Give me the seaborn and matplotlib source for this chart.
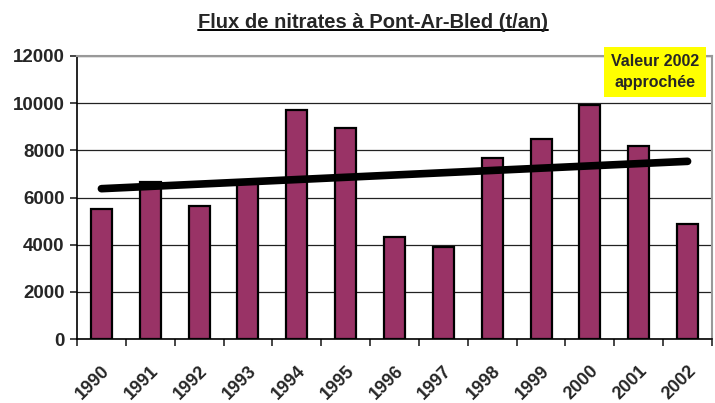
import numpy as np
import pandas as pd
import matplotlib
matplotlib.use("Agg")
import matplotlib.pyplot as plt
import seaborn as sns
from matplotlib.lines import Line2D

years = ["1990", "1991", "1992", "1993", "1994", "1995", "1996",
         "1997", "1998", "1999", "2000", "2001", "2002"]
flux = [5500, 6650, 5650, 6600, 9700, 8940, 4310,
        3900, 7680, 8490, 9930, 8180, 4870]
title = "Flux de nitrates à Pont-Ar-Bled (t/an)"
note = "Valeur 2002\napprochée"

sns.set_style("white")
plt.rcParams['font.family'] = ['Liberation Sans', 'DejaVu Sans']
plt.rcParams['font.weight'] = 'bold'

df = pd.DataFrame({"annee": years, "flux": flux})

fig = plt.figure(figsize=(7.15, 4.03), dpi=100)
ax = fig.add_axes([77 / 715, 1 - 339 / 403, 635 / 715, 283 / 403])

sns.barplot(data=df, x="annee", y="flux", color="#993366", saturation=1,
            width=0.43, edgecolor="black", linewidth=1.6, ax=ax, zorder=3)

# linear trend over the years
sns.regplot(x=np.arange(len(flux)), y=np.array(flux), ci=None, scatter=False,
            ax=ax, line_kws=dict(color="black", lw=5.5, solid_capstyle="round", zorder=4))

ax.set_xlim(-0.5, len(years) - 0.5)
ax.set_ylim(0, 12000)
ax.set_yticks(range(0, 12001, 2000))
ax.yaxis.grid(True, color="#222222", lw=0.9, zorder=0)
ax.set_xlabel("")
ax.set_ylabel("")

for s in ["left", "bottom"]:
    ax.spines[s].set_color("black")
    ax.spines[s].set_linewidth(1.2)
for s in ["top", "right"]:
    ax.spines[s].set_color("#999999")
    ax.spines[s].set_linewidth(1.5)

ax.tick_params(axis="y", which="both", left=True, length=5, width=1.2,
               labelsize=13.5, pad=4)
ax.set_xticks(np.arange(len(years)))
ax.set_xticklabels(years, rotation=45, ha="right", rotation_mode="anchor",
                   fontsize=13, fontweight="bold")
ax.tick_params(axis="x", which="major", length=0, pad=17)
ax.set_xticks(np.arange(-0.5, len(years)), minor=True)
ax.tick_params(axis="x", which="minor", bottom=True, length=5, width=1.2)

t = fig.text(373 / 715, 1 - 22 / 403, title, ha="center", va="center",
             fontsize=14.5, fontweight="bold")

fig.text(655 / 715, 1 - 72 / 403, note, ha="center", va="center",
         fontsize=11.5, fontweight="bold", linespacing=1.45,
         bbox=dict(boxstyle="square,pad=0.45", fc="#ffff00", ec="none"))

fig.canvas.draw()
bb = t.get_window_extent().transformed(fig.transFigure.inverted())
fig.add_artist(Line2D([bb.x0, bb.x1], [bb.y0 + 0.004, bb.y0 + 0.004],
                      transform=fig.transFigure, color="black", lw=1.4))

fig.savefig("out.png", dpi=100)
